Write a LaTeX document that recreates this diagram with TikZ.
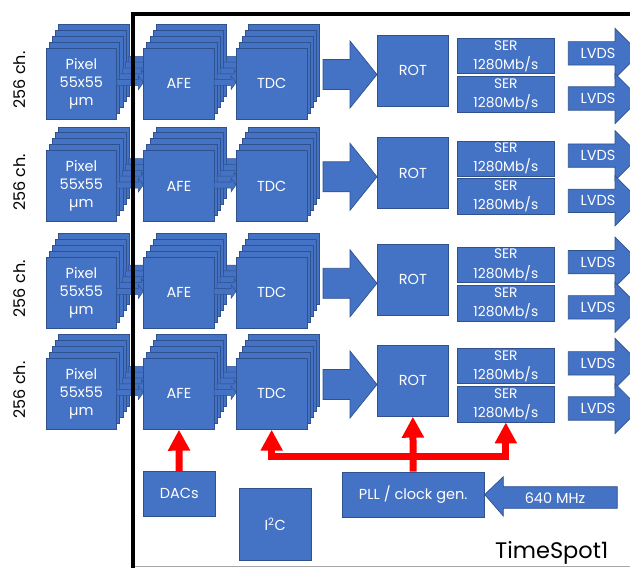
\documentclass[tikz,border=0pt]{standalone}
\usepackage{fontspec}
\setmainfont{Poppins}
\usetikzlibrary{arrows.meta}
\definecolor{boxc}{HTML}{4472C4}
\definecolor{bordc}{HTML}{2F528F}
\newcommand\lblfont{\fontsize{14.5}{18}\selectfont}
\newcommand\serfont{\fontsize{13.8}{19.4}\selectfont}
\newcommand\smallarr[3]{%
  \filldraw[fill=boxc,draw=bordc,line width=0.5pt] (#1,#3-3) -- (#2-5,#3-3) -- (#2-5,#3-7) -- (#2,#3) -- (#2-5,#3+7) -- (#2-5,#3+3) -- (#1,#3+3) -- cycle;}
\begin{document}
\begin{tikzpicture}[x=1pt,y=-1pt,
  blk/.style={draw=bordc, fill=boxc, line width=0.7pt, inner sep=0pt, anchor=north west,
    text=white, align=center, font=\lblfont},
  sq/.style={blk, minimum width=70.6pt, minimum height=71.3pt},
  shape arrow/.style={draw=bordc, fill=boxc, line width=0.7pt},
  lab/.style={text=white, font=\lblfont, inner sep=0pt},
  redarr/.style={draw=red, line width=7pt, -{Triangle[width=21pt,length=21pt]}},
  chlab/.style={rotate=90, font=\fontsize{16}{18}\selectfont, inner sep=0pt}]
\useasboundingbox (0,0) rectangle (630,568);
\clip (0,0) rectangle (630,568);

\foreach \r/\d in {1/0,2/102.3,3/208.8,4/310}{
  % back layers
  \foreach \k in {4,3,2,1}{
    \pgfmathsetmacro\ox{3.1*\k}
    \pgfmathsetmacro\oy{47.7+\d-5.85*\k}
    \pgfmathsetmacro\yc{\oy+35}
    \node[sq] at (45.7+\ox,\oy) {};
    \smallarr{116.3+\ox}{143.3+\ox}{\yc}
    \node[sq] at (143.3+\ox,\oy) {};
    \smallarr{214+\ox}{236+\ox}{\yc}
    \node[sq] at (236+\ox,\oy) {};
  }
  % front layer
  \pgfmathsetmacro\fy{47.7+\d}
  \pgfmathsetmacro\fyc{\fy+35}
  \node[sq] (pix\r) at (45.7,\fy) {Pixel\\55x55\\µm};
  \smallarr{116.3}{143.3}{\fyc}
  \node[sq] (afe\r) at (143.3,\fy) {AFE};
  \smallarr{214}{236}{\fyc}
  \node[sq] (tdc\r) at (236,\fy) {TDC};
  \node[chlab] (ch\r) at (20,80+\d) {256 ch.};
  % big arrow
  \filldraw[shape arrow] (323,59.5+\d) -- (350,59.5+\d) -- (350,41+\d) -- (377,74.5+\d)
     -- (350,108+\d) -- (350,89.5+\d) -- (323,89.5+\d) -- cycle;
  % ROT and SER
  \node[blk, minimum width=71.6pt, minimum height=71pt] (rot\r) at (376.7,35+\d) {ROT};
  \node[blk, minimum width=97.6pt, minimum height=35pt, font=\serfont] (sera\r) at (456.7,38.3+\d) {SER\\1280Mb/s};
  \node[blk, minimum width=97.6pt, minimum height=35.7pt, font=\serfont] (serb\r) at (456.7,76+\d) {SER\\1280Mb/s};
  % LVDS arrows
  \foreach \c in {53.3,98.5}{
    \filldraw[shape arrow] (568.3,\c-11.7+\d) -- (615,\c-11.7+\d) -- (615,\c-25+\d) -- (640,\c+\d)
      -- (615,\c+25+\d) -- (615,\c+11.7+\d) -- (568.3,\c+11.7+\d) -- cycle;
    \node[lab] at (598,\c+\d) {LVDS};
  }
}

% frame
\draw[black!35, line width=1pt] (133,566) -- (640,566);
\draw[black, line width=4pt] (133,570) -- (133,13.7) -- (640,13.7);

% bottom blocks
\node[blk, minimum width=72.3pt, minimum height=45pt] (dacs) at (142.7,471) {DACs};
\node[blk, minimum width=71.7pt, minimum height=71.7pt] (i2c) at (239,488.3) {I\textsuperscript{2}C};
\node[blk, minimum width=142.3pt, minimum height=45pt] (pll) at (341.7,471.7) {PLL / clock gen.};
\filldraw[shape arrow] (pll.east) -- (503.3,476.7) -- (503.3,486.7) -- (617.3,486.7)
   -- (617.3,508.3) -- (503.3,508.3) -- (503.3,516) -- cycle;
\node[lab] (mhz) at (555,498) {640 MHz};

\node[anchor=base west, inner sep=0pt, font=\fontsize{22.5}{26}\selectfont] (ts) at (495,558) {TimeSpot1};

% red clock/bias distribution
\coordinate (jy) at (0,456);
\draw[redarr] (dacs.north) -- (afe4.south);
\draw[redarr] (pll.north) -- (rot4.south);
\draw[redarr] (pll.north |- jy) -| (tdc4.south);
\draw[redarr] (pll.north |- jy) -| (serb4.south);
\end{tikzpicture}
\end{document}
